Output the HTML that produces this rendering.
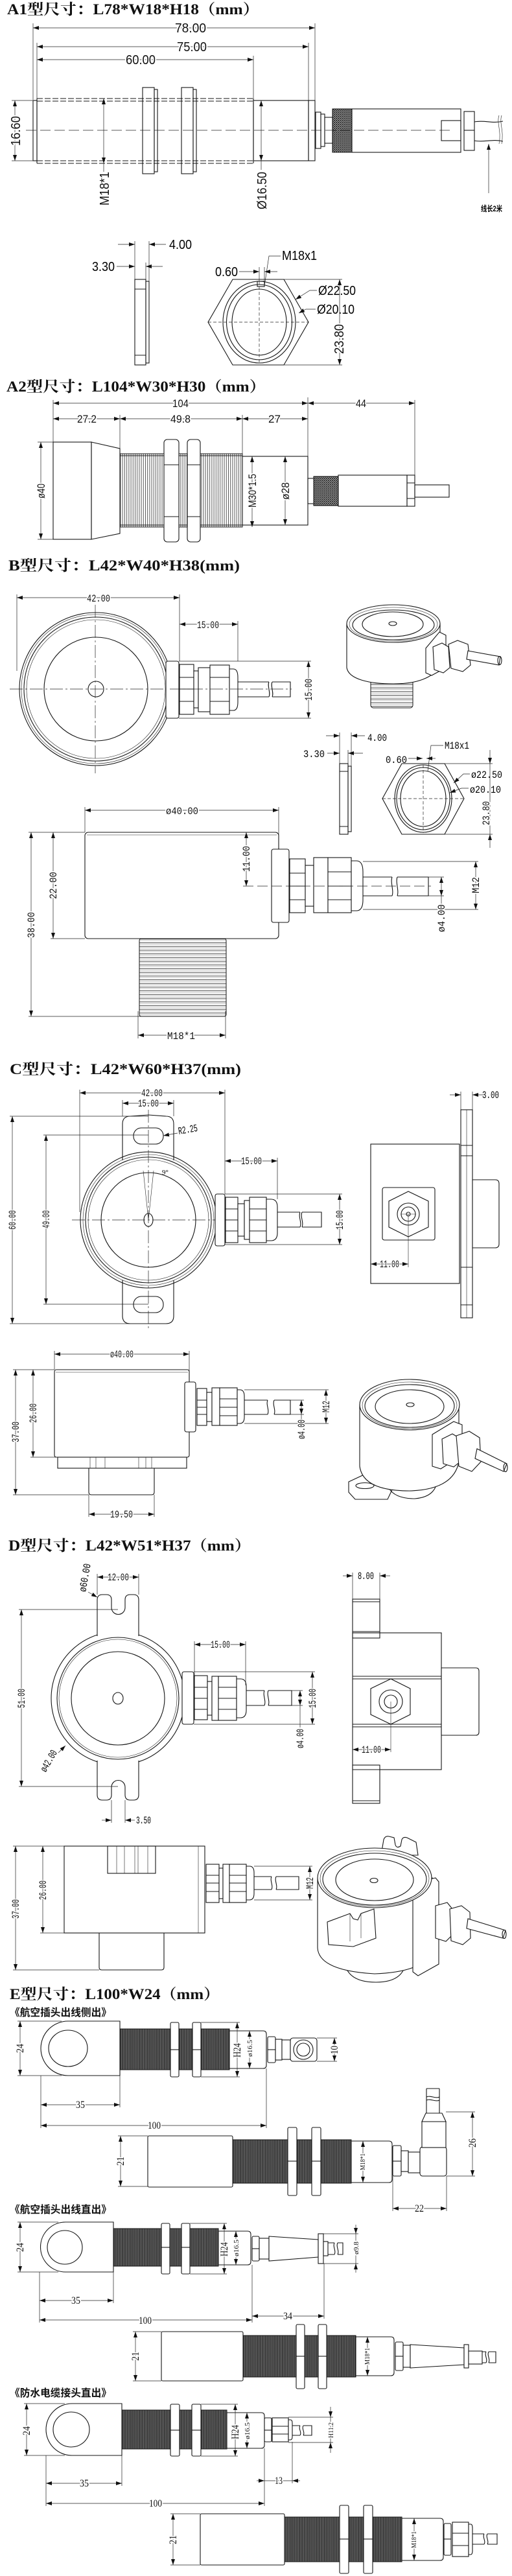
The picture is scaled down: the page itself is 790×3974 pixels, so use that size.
<!DOCTYPE html>
<html><head><meta charset="utf-8">
<style>
html,body{margin:0;padding:0;background:#fff}
svg{display:block}
.o{fill:none;stroke:#141414;stroke-width:1.1}
.w{fill:#fff;stroke:#141414;stroke-width:1.1}
.t{fill:none;stroke:#222;stroke-width:.6}
.d{fill:none;stroke:#222;stroke-width:.7}
.a{marker-start:url(#ar);marker-end:url(#ar)}
.e{marker-end:url(#ar)}
.cl{fill:none;stroke:#222;stroke-width:.8;stroke-dasharray:16 6}
.cd{fill:none;stroke:#222;stroke-width:.7;stroke-dasharray:20 4 3 4}
.ds{fill:none;stroke:#141414;stroke-width:1.1;stroke-dasharray:9 3}
.l{paint-order:stroke;stroke:#fff;stroke-width:4px;stroke-linejoin:round;fill:#111}
.fa{font-family:"Liberation Sans",sans-serif;font-size:20px}
.fb{font-family:"Liberation Sans",sans-serif;font-size:17px}
.fm{font-family:"Liberation Mono",monospace;font-size:16px}
.fe{font-family:"Liberation Serif",serif;font-size:16px}
.fs{font-family:"Liberation Serif",serif;font-size:11px}
.h{font-family:"Liberation Serif","Noto Serif CJK SC",serif;font-weight:700;font-size:23px;fill:#111}
.sub{font-family:"Liberation Serif","Noto Sans CJK SC",sans-serif;font-weight:700;font-size:16px;fill:#111}
</style></head>
<body>
<svg width="790" height="3974" viewBox="0 0 790 3974" xmlns="http://www.w3.org/2000/svg">
<defs>
<marker id="ar" viewBox="0 0 9 6" refX="9" refY="3" markerWidth="9" markerHeight="6" markerUnits="userSpaceOnUse" orient="auto-start-reverse"><path d="M0,0L9,3L0,6z" fill="#111"/></marker>
<pattern id="kn" width="3" height="3" patternUnits="userSpaceOnUse"><rect width="3" height="3" fill="#fff"/><path d="M0,0L3,3M3,0L0,3" stroke="#111" stroke-width=".9"/></pattern>
<pattern id="th" width="2.6" height="4" patternUnits="userSpaceOnUse"><rect width="2.6" height="4" fill="#383838"/><path d="M0.5,0V4" stroke="#8a8a8a" stroke-width=".6"/></pattern>
<pattern id="tv" width="3.2" height="4" patternUnits="userSpaceOnUse"><rect width="3.2" height="4" fill="#fff"/><path d="M0.5,0V4" stroke="#333" stroke-width=".8"/></pattern>
<pattern id="tb" width="4" height="5.7" patternUnits="userSpaceOnUse"><rect width="4" height="5.7" fill="#fff"/><path d="M0,1H4" stroke="#333" stroke-width=".9"/><path d="M0,3.5H4" stroke="#999" stroke-width=".6"/></pattern>
</defs>

<!-- ================= A1 ================= -->
<text class="h" x="11" y="22" textLength="389" lengthAdjust="spacingAndGlyphs">A1型尺寸：L78*W18*H18（mm）</text>
<path class="d" d="M51,36V154M57,66V152M391,86V152M476,66V155M486,36V155"/>
<path class="d a" d="M51,43H486"/><text class="l fa" x="270" y="50" textLength="48" lengthAdjust="spacingAndGlyphs">78.00</text>
<path class="d a" d="M57,72H476"/><text class="l fa" x="273" y="79" textLength="46" lengthAdjust="spacingAndGlyphs">75.00</text>
<path class="d a" d="M57,92H391"/><text class="l fa" x="194" y="99" textLength="46" lengthAdjust="spacingAndGlyphs">60.00</text>
<rect class="o" x="51" y="155" width="6" height="93"/>
<path class="ds" d="M57,152H391M57,156H391M57,248H391M57,252H391"/>
<path class="o" d="M57,152V252M391,152V252"/>
<rect class="o" x="220" y="135" width="18" height="133"/><rect class="o" x="238" y="138" width="5" height="127"/>
<rect class="o" x="280" y="135" width="18" height="133"/><rect class="o" x="298" y="138" width="5" height="127"/>
<rect class="o" x="391" y="155" width="85" height="93"/><rect class="o" x="476" y="155" width="10" height="93"/>
<rect class="o" x="487" y="173" width="8" height="56"/><rect class="o" x="495" y="176" width="6" height="50"/><rect class="o" x="501" y="181" width="12" height="40"/>
<rect x="513" y="168" width="30" height="67" fill="url(#kn)" stroke="#141414"/>
<rect class="o" x="543" y="168" width="168" height="67"/><rect class="o" x="681" y="186" width="30" height="31"/>
<rect class="o" x="716" y="172" width="16" height="60"/><path class="o" d="M716,201H732"/>
<path class="o" d="M732,188C748,185 760,191 776,187M732,217C748,220 760,214 776,218"/>
<path class="t" d="M770,178c-4,12 4,24 0,44M774,178c-4,12 4,24 0,44"/>
<path class="cl" d="M40,201H700"/>
<path class="d" d="M18,155H51M18,248H51"/>
<path class="d a" d="M23,155V248"/><text class="l fa" transform="translate(24,202) rotate(-90)" x="-23" y="7" textLength="46" lengthAdjust="spacingAndGlyphs">16.60</text>
<path class="d a" d="M160,152V252"/><path class="d" d="M160,252V265"/>
<text class="l fa" transform="translate(161,291) rotate(-90)" x="-26" y="7" textLength="52" lengthAdjust="spacingAndGlyphs">M18*1</text>
<path class="d a" d="M403,155V248"/><path class="d" d="M403,248V262"/>
<text class="l fa" transform="translate(404,294) rotate(-90)" x="-29" y="7" textLength="58" lengthAdjust="spacingAndGlyphs">Ø16.50</text>
<path class="d e" d="M754,298V222"/>
<text x="742" y="326" font-family="Liberation Sans,Noto Sans CJK SC,sans-serif" font-weight="700" font-size="12" textLength="33" lengthAdjust="spacingAndGlyphs">线长2米</text>
<!-- washer -->
<rect class="o" x="208" y="431" width="17" height="132"/><rect class="o" x="225" y="434" width="5" height="126"/>
<path class="o" d="M208,446H225M208,548H225"/>
<path class="d" d="M208,372V431M230,372V434M225,405V431"/>
<path class="d e" d="M182,377H208"/><path class="d e" d="M256,377H230"/>
<text class="fa" x="261" y="384" textLength="35" lengthAdjust="spacingAndGlyphs">4.00</text>
<path class="d e" d="M180,411H208"/><path class="d e" d="M251,411H225"/>
<text class="fa" x="142" y="418" textLength="35" lengthAdjust="spacingAndGlyphs">3.30</text>
<!-- hex -->
<polygon class="o" points="359,431 438,431 476,497 438,563 359,563 321,497"/>
<ellipse class="o" cx="400" cy="497" rx="56" ry="63"/>
<ellipse class="o" cx="400" cy="497" rx="50.5" ry="58"/>
<ellipse class="o" cx="400" cy="497" rx="42" ry="51"/>
<path class="d" stroke-dasharray="5 3" d="M321,497H476M400,434V560"/>
<rect class="o" x="397" y="434" width="11" height="8"/>
<path class="d" d="M400,412V434M408,412V434"/>
<text class="fa" x="435" y="401" textLength="54" lengthAdjust="spacingAndGlyphs">M18x1</text>
<path class="d" d="M433,395H415L408,441"/>
<text class="fa" x="332" y="426" textLength="35" lengthAdjust="spacingAndGlyphs">0.60</text>
<path class="d e" d="M369,419H400"/><path class="d e" d="M428,419H408"/>
<text class="fa" x="491" y="455" textLength="58" lengthAdjust="spacingAndGlyphs">Ø22.50</text>
<path class="d e" d="M489,448H478L456,462"/>
<text class="fa" x="489" y="484" textLength="58" lengthAdjust="spacingAndGlyphs">Ø20.10</text>
<path class="d e" d="M487,477H472L461,483"/>
<path class="d" d="M438,431H528M438,563H528"/>
<path class="d a" d="M524,431V563"/>
<text class="l fa" transform="translate(523,523) rotate(-90)" x="-23" y="7" textLength="46" lengthAdjust="spacingAndGlyphs">23.80</text>

<!-- ================= A2 ================= -->
<text class="h" x="10" y="604" textLength="400" lengthAdjust="spacingAndGlyphs">A2型尺寸：L104*W30*H30（mm）</text>
<path class="d" d="M82,617V682M185,640V692M374,640V704M475,613V738M640,617V738"/>
<path class="d a" d="M82,622H475"/><text class="l fb" x="266" y="628" textLength="25" lengthAdjust="spacingAndGlyphs">104</text>
<path class="d a" d="M475,622H640"/><text class="l fb" x="549" y="628" textLength="16" lengthAdjust="spacingAndGlyphs">44</text>
<path class="d a" d="M82,646H185"/><text class="l fb" x="119" y="652" textLength="30" lengthAdjust="spacingAndGlyphs">27.2</text>
<path class="d a" d="M185,646H374"/><text class="l fb" x="263" y="652" textLength="31" lengthAdjust="spacingAndGlyphs">49.8</text>
<path class="d a" d="M374,646H475"/><text class="l fb" x="414" y="652" textLength="19" lengthAdjust="spacingAndGlyphs">27</text>
<rect class="o" x="82" y="682" width="59" height="150"/>
<polygon class="o" points="141,682 185,692 185,823 141,832"/>
<rect x="185" y="700" width="189" height="113" fill="url(#tv)" stroke="#141414"/>
<path class="o" d="M185,703H374M185,810H374"/>
<rect class="w" x="253" y="678" width="23" height="158" rx="5"/><path class="o" d="M253,717H276M253,797H276"/>
<rect class="w" x="289" y="678" width="20" height="158" rx="5"/><path class="o" d="M289,717H309M289,797H309"/>
<rect class="o" x="374" y="704" width="101" height="106"/>
<path class="d a" d="M389,704V813"/><text class="l fb" transform="translate(389,757) rotate(-90)" x="-26" y="6" textLength="52" lengthAdjust="spacingAndGlyphs">M30*1.5</text>
<path class="d a" d="M440,704V810"/><text class="l fb" transform="translate(440,757) rotate(-90)" x="-14" y="6" textLength="27" lengthAdjust="spacingAndGlyphs">ø28</text>
<path class="d" d="M58,682H82M58,832H82"/>
<path class="d a" d="M63,682V832"/><text class="l fb" transform="translate(63,757) rotate(-90)" x="-12" y="6" textLength="23" lengthAdjust="spacingAndGlyphs">ø40</text>
<rect class="o" x="475" y="738" width="9" height="39"/>
<rect x="484" y="735" width="38" height="45" fill="url(#kn)" stroke="#141414"/>
<rect class="o" x="522" y="733" width="106" height="48"/>
<rect class="o" x="628" y="733" width="12" height="48"/><path class="o" d="M628,745H640M628,769H640"/>
<rect class="o" x="640" y="748" width="53" height="19"/>

<!-- ================= B ================= -->
<text class="h" x="13" y="880" textLength="357" lengthAdjust="spacingAndGlyphs">B型尺寸：L42*W40*H38(mm)</text>
<path class="d" d="M26,917V1035M277,917V1020M367,958V1020"/>
<path class="d a" d="M26,922H277"/><text class="l fm" x="134" y="928" textLength="36" lengthAdjust="spacingAndGlyphs">42.00</text>
<path class="d a" d="M277,963H367"/><text class="l fm" x="304" y="969" textLength="34" lengthAdjust="spacingAndGlyphs">15.00</text>
<circle class="o" cx="148" cy="1063" r="118"/>
<circle class="t" cx="148" cy="1063" r="115"/>
<circle class="o" cx="148" cy="1063" r="111" stroke-width=".8"/>
<circle class="t" cx="148" cy="1063" r="107"/>
<circle class="o" cx="148" cy="1063" r="80" stroke-width=".8"/>
<circle class="o" cx="148" cy="1063" r="12"/>
<path class="cd" d="M147,933V1193M15,1063H262"/>
<rect class="w" x="256" y="1020" width="20" height="88" rx="3"/>
<rect class="w" x="277" y="1025" width="22" height="77"/><path class="o" d="M277,1045H299M277,1063H299M277,1082H299"/>
<rect class="w" x="299" y="1035" width="7" height="57"/>
<rect class="w" x="306" y="1030" width="18" height="68"/>
<rect class="w" x="324" y="1026" width="30" height="76"/><path class="o" d="M324,1045H354M324,1082H354"/>
<path class="w" d="M354,1032H360Q367,1032 367,1045V1083Q367,1096 360,1096H354Z"/>
<path class="o" d="M367,1052H415M367,1075H415M415,1052c-3,6 3,17 0,23M420,1052c-3,6 3,17 0,23M420,1052H448V1075H420"/>
<path class="cd" d="M262,1063H450"/>
<path class="d" d="M276,1020H480M276,1108H480"/>
<path class="d a" d="M476,1020V1108"/><text class="l fm" transform="translate(476,1064) rotate(-90)" x="-17" y="5" textLength="34" lengthAdjust="spacingAndGlyphs">15.00</text>
<!-- B 3D -->
<rect x="572" y="1040" width="65" height="52" fill="url(#tb)" stroke="#141414" rx="4"/>
<path class="w" d="M535,962V1030C538,1048 570,1055 607,1055C640,1055 670,1047 679,1025V962Z"/>
<ellipse class="w" cx="607" cy="962" rx="72" ry="29"/>
<ellipse class="t" cx="607" cy="963" rx="68" ry="26"/>
<ellipse class="o" cx="607" cy="964" rx="63" ry="23" stroke-width=".8"/>
<ellipse class="o" cx="606" cy="963" rx="47" ry="19" stroke-width=".8"/>
<ellipse class="o" cx="606" cy="962" rx="6" ry="3"/>
<path class="w" d="M657,1000L678,975L688,980L688,1030L666,1042L657,1038Z"/>
<path class="w" d="M668,998L682,992L692,998L694,1030L684,1038L670,1033Z"/>
<path class="w" d="M692,994L706,988L722,994L726,1026L714,1036L696,1031Z"/>
<path class="w" d="M722,1004L772,1013L770,1026L720,1017Z"/>
<ellipse class="o" cx="771" cy="1019" rx="3" ry="6.5"/>
<!-- B washer & hex -->
<rect class="o" x="524" y="1178" width="13" height="109"/><rect class="o" x="537" y="1182" width="5" height="101"/>
<path class="o" d="M524,1190H537M524,1275H537"/>
<path class="d" d="M524,1130V1178M542,1130V1182M537,1157V1182"/>
<path class="d e" d="M503,1135H524"/><path class="d e" d="M563,1135H542"/>
<text class="fm" x="567" y="1143" textLength="30" lengthAdjust="spacingAndGlyphs">4.00</text>
<path class="d e" d="M505,1162H524"/><path class="d e" d="M560,1162H537"/>
<text class="fm" x="468" y="1168" textLength="33" lengthAdjust="spacingAndGlyphs">3.30</text>
<polygon class="o" points="620,1178 686,1178 716,1232 686,1287 620,1287 590,1232"/>
<ellipse class="o" cx="653" cy="1232" rx="44" ry="52"/>
<ellipse class="o" cx="653" cy="1232" rx="41" ry="48"/>
<ellipse class="o" cx="653" cy="1232" rx="35" ry="43"/>
<path class="d" stroke-dasharray="5 3" d="M590,1232H716M653,1180V1285"/>
<text class="fm" x="686" y="1155" textLength="38" lengthAdjust="spacingAndGlyphs">M18x1</text>
<path class="d" d="M684,1150H665L660,1190"/>
<text class="fm" x="595" y="1177" textLength="33" lengthAdjust="spacingAndGlyphs">0.60</text>
<path class="d e" d="M630,1170H652"/><path class="d e" d="M672,1170H658"/>
<text class="fm" x="727" y="1200" textLength="48" lengthAdjust="spacingAndGlyphs">ø22.50</text>
<path class="d e" d="M725,1194H715L700,1208"/>
<text class="fm" x="725" y="1223" textLength="48" lengthAdjust="spacingAndGlyphs">ø20.10</text>
<path class="d e" d="M723,1216H712L694,1223"/>
<path class="d" d="M686,1178H760M686,1287H760"/>
<path class="d e" d="M756,1157V1178"/><path class="d e" d="M756,1308V1287"/><path class="d" d="M756,1178V1287"/>
<text class="l fm" transform="translate(750,1255) rotate(-90)" x="-18" y="5" textLength="37" lengthAdjust="spacingAndGlyphs">23.80</text>
<!-- B side -->
<path class="d" d="M131,1245V1284M430,1245V1310"/>
<path class="d a" d="M131,1250H430"/><text class="l fm" x="256" y="1256" textLength="50" lengthAdjust="spacingAndGlyphs">ø40.00</text>
<rect class="o" x="131" y="1284" width="299" height="164" rx="5"/>
<path class="t" d="M134,1288H427"/>
<path class="d" d="M44,1284H131M78,1448H131M44,1568H218"/>
<path class="d a" d="M48,1284V1568"/><text class="l fm" transform="translate(48,1427) rotate(-90)" x="-20" y="5" textLength="40" lengthAdjust="spacingAndGlyphs">38.00</text>
<path class="d a" d="M82,1284V1448"/><text class="l fm" transform="translate(82,1366) rotate(-90)" x="-21" y="5" textLength="42" lengthAdjust="spacingAndGlyphs">22.00</text>
<path class="d a" d="M380,1284V1367"/><text class="l fm" transform="translate(380,1325) rotate(-90)" x="-20" y="5" textLength="40" lengthAdjust="spacingAndGlyphs">11.00</text>
<rect class="w" x="419" y="1310" width="27" height="113" rx="3"/>
<rect class="w" x="447" y="1325" width="24" height="83"/><path class="o" d="M447,1347H471M447,1367H471M447,1388H471"/>
<rect class="w" x="471" y="1335" width="13" height="63"/>
<rect class="w" x="484" y="1323" width="22" height="85"/>
<rect class="w" x="506" y="1323" width="36" height="85"/><path class="o" d="M506,1345H542M506,1367H542M506,1388H542"/>
<path class="w" d="M542,1328H550Q560,1328 560,1345V1388Q560,1405 550,1405H542Z"/>
<path class="o" d="M560,1353H605M560,1382H605M605,1353c-3,8 3,21 0,29M613,1353c-3,8 3,21 0,29M613,1353H661V1382H613"/>
<path class="cl" d="M375,1367H665"/>
<path class="d" d="M560,1329H738M560,1403H738M661,1353H685M661,1382H685"/>
<path class="d a" d="M734,1329V1403"/><text class="l fm" transform="translate(734,1366) rotate(-90)" x="-12" y="5" textLength="25" lengthAdjust="spacingAndGlyphs">M12</text>
<path class="d a" d="M681,1353V1382"/><path class="d" d="M681,1382V1396"/>
<text class="l fm" transform="translate(681,1417) rotate(-90)" x="-21" y="5" textLength="43" lengthAdjust="spacingAndGlyphs">ø4.00</text>
<rect x="215" y="1448" width="134" height="120" fill="url(#tb)" stroke="#141414" rx="3"/>
<path class="d" d="M213,1560V1602M348,1560V1602"/>
<path class="d a" d="M213,1597H348"/><text class="l fm" x="258" y="1603" textLength="43" lengthAdjust="spacingAndGlyphs">M18*1</text>

<!-- ================= C ================= -->
<text class="h" x="15" y="1657" textLength="357" lengthAdjust="spacingAndGlyphs">C型尺寸：L42*W60*H37(mm)</text>
<path class="d" d="M123,1681V1870M347,1681V1842M189,1697V1722M268,1697V1722"/>
<path class="d a" d="M123,1686H347"/><text class="l fm" x="218" y="1691" textLength="33" lengthAdjust="spacingAndGlyphs">42.00</text>
<path class="d a" d="M189,1702H268"/><text class="l fm" x="213" y="1707" textLength="32" lengthAdjust="spacingAndGlyphs">15.00</text>
<path class="o" d="M189,1790V1734Q189,1722 201,1722L229,1720L256,1722Q268,1722 268,1734V1790"/>
<path class="o" d="M189,1975V2030Q189,2042 201,2042H256Q268,2042 268,2030V1975"/>
<rect class="o" x="206" y="1740" width="46" height="25" rx="12"/>
<rect class="o" x="206" y="2000" width="46" height="25" rx="12"/>
<circle class="o" cx="229" cy="1882" r="105"/>
<circle class="t" cx="229" cy="1882" r="101"/>
<circle class="o" cx="229" cy="1882" r="97" stroke-width=".8"/>
<circle class="t" cx="229" cy="1882" r="93"/>
<circle class="o" cx="229" cy="1882" r="73" stroke-width=".9"/>
<ellipse class="o" cx="229" cy="1882" rx="7" ry="10"/>
<path class="cd" d="M229,1712V2050M111,1882H345"/>
<path class="t" d="M229,1882L221,1806M229,1882L237,1806"/>
<text class="fs" x="250" y="1812">9°</text>
<text class="fm" font-size="12" transform="translate(276,1750) rotate(-10)" textLength="30" lengthAdjust="spacingAndGlyphs">R2.25</text>
<path class="d e" d="M274,1748L252,1752"/>
<path class="d" d="M15,1722H229M67,1751H229M15,2042H229M67,2012H229"/>
<path class="d a" d="M19,1722V2042"/><text class="l fm" transform="translate(19,1882) rotate(-90)" x="-15" y="5" textLength="30" lengthAdjust="spacingAndGlyphs">60.00</text>
<path class="d a" d="M71,1751V2012"/><text class="l fm" transform="translate(71,1881) rotate(-90)" x="-14" y="5" textLength="28" lengthAdjust="spacingAndGlyphs">49.00</text>
<rect class="w" x="332" y="1842" width="15" height="80" rx="3"/>
<rect class="w" x="348" y="1847" width="19" height="70"/><path class="o" d="M348,1865H367M348,1882H367M348,1899H367"/>
<rect class="w" x="367" y="1857" width="10" height="50"/>
<rect class="w" x="377" y="1852" width="8" height="60"/>
<rect class="w" x="385" y="1847" width="26" height="70"/><path class="o" d="M385,1865H411M385,1882H411M385,1899H411"/>
<path class="w" d="M411,1850H418Q428,1850 428,1862V1902Q428,1914 418,1914H411Z"/>
<path class="o" d="M428,1870H463M428,1893H463M463,1870c-3,7 3,16 0,23M466,1870c-3,7 3,16 0,23M466,1870H496V1893H466"/>
<path class="d" d="M428,1786V1850M347,1842H528M347,1920H528"/>
<path class="d a" d="M347,1791H428"/><text class="l fm" x="372" y="1796" textLength="32" lengthAdjust="spacingAndGlyphs">15.00</text>
<path class="d a" d="M524,1842V1920"/><text class="l fm" transform="translate(524,1882) rotate(-90)" x="-15" y="5" textLength="30" lengthAdjust="spacingAndGlyphs">15.00</text>
<!-- C side -->
<rect class="o" x="572" y="1765" width="137" height="215"/>
<rect class="o" x="711" y="1712" width="18" height="321"/>
<path class="t" d="M720,1712V2033"/>
<path class="o" d="M711,1767H729M711,1783H729M711,1955H729M711,2013H729"/>
<path class="w" d="M729,1820H764Q770,1820 770,1826V1919Q770,1925 764,1925H729Z"/>
<rect class="o" x="590" y="1832" width="81" height="81" rx="3"/>
<polygon class="o" points="630,1838 661,1853 661,1893 630,1908 600,1893 600,1853"/>
<circle class="o" cx="630" cy="1873" r="17"/><circle class="o" cx="630" cy="1873" r="11"/><circle class="o" cx="630" cy="1873" r="3"/>
<path class="t" d="M630,1873V1955M618,1873H642"/>
<path class="d" d="M711,1684V1712M729,1684V1712"/>
<path class="d e" d="M694,1689H711"/><path class="d e" d="M746,1689H729"/>
<text class="fm" x="744" y="1694" textLength="26" lengthAdjust="spacingAndGlyphs">3.00</text>
<path class="d a" d="M572,1950H630"/><text class="l fm" x="586" y="1955" textLength="30" lengthAdjust="spacingAndGlyphs">11.00</text>
<!-- C lower side -->
<path class="d" d="M84,2084V2113M292,2084V2132"/>
<path class="d a" d="M84,2089H292"/><text class="l fm" x="170" y="2094" textLength="36" lengthAdjust="spacingAndGlyphs">ø40.00</text>
<rect class="o" x="84" y="2113" width="208" height="135" rx="3"/>
<path class="t" d="M86,2117H290"/>
<rect class="o" x="89" y="2248" width="199" height="17"/>
<path class="t" d="M139,2248V2265M148,2248V2265M162,2248V2265M214,2248V2265M225,2248V2265M234,2248V2265"/>
<path class="o" d="M137,2265V2302Q137,2306 141,2306H234Q238,2306 238,2302V2265"/>
<path class="d" d="M20,2113H84M20,2306H137M47,2248H89M137,2306V2340M238,2306V2340"/>
<path class="d a" d="M24,2113V2306"/><text class="l fm" transform="translate(24,2209) rotate(-90)" x="-16" y="5" textLength="32" lengthAdjust="spacingAndGlyphs">37.00</text>
<path class="d a" d="M51,2113V2248"/><text class="l fm" transform="translate(51,2180) rotate(-90)" x="-15" y="5" textLength="30" lengthAdjust="spacingAndGlyphs">26.00</text>
<path class="d a" d="M137,2336H238"/><text class="l fm" x="170" y="2341" textLength="35" lengthAdjust="spacingAndGlyphs">19.50</text>
<rect class="w" x="285" y="2132" width="17" height="77" rx="3"/>
<rect class="w" x="304" y="2142" width="15" height="57"/><path class="o" d="M304,2160H319M304,2171H319M304,2182H319"/>
<rect class="w" x="319" y="2148" width="8" height="45"/>
<rect class="w" x="327" y="2141" width="12" height="58"/>
<rect class="w" x="339" y="2141" width="27" height="58"/><path class="o" d="M339,2158H366M339,2171H366M339,2184H366"/>
<path class="w" d="M366,2144H370Q377,2144 377,2154V2186Q377,2196 370,2196H366Z"/>
<path class="o" d="M377,2160H413M377,2182H413M413,2160c-3,7 3,15 0,22M423,2160c-3,7 3,15 0,22M423,2160H448V2182H423"/>
<path class="d" d="M377,2144H507M377,2196H507M448,2160H469M448,2182H469"/>
<path class="d a" d="M503,2144V2196"/><text class="l fm" transform="translate(503,2170) rotate(-90)" x="-9" y="5" textLength="18" lengthAdjust="spacingAndGlyphs">M12</text>
<path class="d a" d="M465,2160V2182"/><path class="d" d="M465,2182V2190"/>
<text class="l fm" transform="translate(465,2205) rotate(-90)" x="-15" y="5" textLength="30" lengthAdjust="spacingAndGlyphs">ø4.00</text>
<!-- C 3D -->
<path class="w" d="M538,2286L568,2272L600,2279L608,2292L598,2313L548,2313L538,2302Z"/>
<ellipse class="o" cx="563" cy="2292" rx="14" ry="4.5"/>
<path class="o" d="M600,2296Q610,2312 640,2312Q665,2310 672,2294"/>
<path class="w" d="M555,2167V2262Q560,2300 632,2300Q700,2298 708,2255V2167Z"/>
<ellipse class="w" cx="632" cy="2167" rx="77" ry="39"/>
<ellipse class="t" cx="632" cy="2168" rx="73" ry="36"/>
<ellipse class="o" cx="632" cy="2169" rx="69" ry="33" stroke-width=".8"/>
<ellipse class="o" cx="632" cy="2170" rx="53" ry="26" stroke-width=".8"/>
<ellipse class="o" cx="633" cy="2167" rx="6" ry="3"/>
<path class="w" d="M667,2213L700,2193L713,2198L713,2245L680,2266L667,2262Z"/>
<path class="w" d="M682,2220L698,2212L708,2218L710,2255L700,2263L684,2258Z"/>
<path class="w" d="M704,2215L724,2208L740,2218L742,2255L728,2270L708,2262Z"/>
<path class="w" d="M736,2235L782,2258L777,2270L733,2250Z"/>
<ellipse class="o" cx="780" cy="2264" rx="3" ry="6.5"/>

<!-- ================= D ================= -->
<text class="h" x="13" y="2392" textLength="374" lengthAdjust="spacingAndGlyphs">D型尺寸：L42*W51*H37（mm）</text>
<path class="d" d="M150,2428V2460M214,2428V2460"/>
<path class="d a" d="M150,2433H214"/><text class="l fm" x="166" y="2438" textLength="33" lengthAdjust="spacingAndGlyphs">12.00</text>
<text class="fm" font-size="13" transform="translate(132,2434) rotate(-80)" x="-22" y="4" textLength="44" lengthAdjust="spacingAndGlyphs">ø60.00</text>
<path class="d e" d="M136,2456L150,2464"/>
<circle class="o" cx="182" cy="2620" r="103"/>
<circle class="o" cx="182" cy="2620" r="94" stroke-width=".9"/>
<circle class="t" cx="182" cy="2620" r="91"/>
<circle class="o" cx="182" cy="2620" r="72" stroke-width=".9"/>
<ellipse class="o" cx="182" cy="2620" rx="8" ry="9"/>
<path class="w" d="M150,2524V2468Q150,2460 158,2460H164Q172,2460 172,2468V2480A10.5,10.5 0 0 0 193,2480V2468Q193,2460 201,2460H206Q214,2460 214,2468V2524"/>
<path class="w" d="M150,2716V2769Q150,2777 158,2777H164Q172,2777 172,2769V2757A10.5,10.5 0 0 1 193,2757V2769Q193,2777 201,2777H206Q214,2777 214,2769V2716"/>
<path class="d" d="M29,2483H182M29,2756H182"/>
<path class="d a" d="M33,2483V2756"/><text class="l fm" transform="translate(33,2620) rotate(-90)" x="-15" y="5" textLength="30" lengthAdjust="spacingAndGlyphs">51.00</text>
<path class="d" d="M172,2777V2812M193,2777V2812"/>
<path class="d e" d="M157,2808H172"/><path class="d e" d="M208,2808H193"/>
<text class="fm" x="210" y="2813" textLength="23" lengthAdjust="spacingAndGlyphs">3.50</text>
<text class="fm" font-size="13" transform="translate(76,2717) rotate(-60)" x="-18" y="4" textLength="36" lengthAdjust="spacingAndGlyphs">ø42.00</text>
<path class="d e" d="M90,2704L101,2693"/>
<rect class="w" x="281" y="2579" width="18" height="81" rx="3"/>
<rect class="w" x="300" y="2585" width="20" height="68"/><path class="o" d="M300,2603H320M300,2620H320M300,2637H320"/>
<rect class="w" x="320" y="2594" width="7" height="52"/>
<rect class="w" x="327" y="2586" width="10" height="68"/>
<rect class="w" x="337" y="2586" width="28" height="68"/><path class="o" d="M337,2603H365M337,2620H365M337,2637H365"/>
<path class="w" d="M365,2590H371Q380,2590 380,2602V2638Q380,2650 371,2650H365Z"/>
<path class="o" d="M380,2608H408M380,2631H408M408,2608c-3,7 3,16 0,23M414,2608c-3,7 3,16 0,23M414,2608H450V2631H414"/>
<path class="d" d="M300,2532V2585M379,2532V2600M299,2579H486M299,2660H486M450,2608H467M450,2631H467"/>
<path class="d a" d="M300,2537H379"/><text class="l fm" x="325" y="2542" textLength="30" lengthAdjust="spacingAndGlyphs">15.00</text>
<path class="d a" d="M482,2579V2660"/><text class="l fm" transform="translate(482,2620) rotate(-90)" x="-15" y="5" textLength="30" lengthAdjust="spacingAndGlyphs">15.00</text>
<path class="d a" d="M463,2608V2631"/><path class="d" d="M463,2631V2665"/>
<text class="l fm" transform="translate(463,2682) rotate(-90)" x="-15" y="5" textLength="30" lengthAdjust="spacingAndGlyphs">ø4.00</text>
<!-- D side -->
<path class="d" d="M544,2426V2467M586,2426V2467"/>
<path class="d e" d="M529,2431H544"/><path class="d e" d="M602,2431H586"/>
<text class="fm" x="552" y="2436" textLength="25" lengthAdjust="spacingAndGlyphs">8.00</text>
<rect class="o" x="544" y="2467" width="42" height="60"/><path class="o" d="M544,2471H586M544,2517H586"/>
<rect class="o" x="544" y="2519" width="137" height="211"/>
<rect class="w" x="544" y="2723" width="42" height="59"/><path class="o" d="M544,2730H586M544,2778H586"/>
<path class="o" d="M544,2586H681M544,2590H681M544,2660H681M544,2664H681"/>
<path class="w" d="M681,2573H734Q739,2573 739,2578V2672Q739,2677 734,2677H681Z"/>
<polygon class="o" points="603,2590 633,2605 633,2645 603,2660 572,2645 572,2605"/>
<circle class="o" cx="603" cy="2625" r="18"/><circle class="o" cx="603" cy="2625" r="10"/>
<path class="t" d="M603,2625V2703"/>
<path class="d a" d="M544,2699H603"/><text class="l fm" x="558" y="2704" textLength="30" lengthAdjust="spacingAndGlyphs">11.00</text>
<!-- D lower side -->
<rect class="o" x="99" y="2848" width="217" height="134"/>
<path class="t" d="M306,2848V2982"/>
<rect class="o" x="166" y="2848" width="74" height="42"/>
<path class="t" d="M180,2848V2890M192,2848V2890M208,2848V2890M213,2848V2890M228,2848V2890"/>
<path class="o" d="M153,2982V3035Q153,3039 157,3039H249Q253,3039 253,3035V2982"/>
<path class="d" d="M20,2848H99M20,3039H153M62,2982H99"/>
<path class="d a" d="M24,2848V3039"/><text class="l fm" transform="translate(24,2945) rotate(-90)" x="-15" y="5" textLength="30" lengthAdjust="spacingAndGlyphs">37.00</text>
<path class="d a" d="M66,2848V2982"/><text class="l fm" transform="translate(66,2916) rotate(-90)" x="-15" y="5" textLength="30" lengthAdjust="spacingAndGlyphs">26.00</text>
<rect class="w" x="318" y="2876" width="20" height="59"/><path class="o" d="M318,2893H338M318,2905H338M318,2918H338"/>
<rect class="w" x="338" y="2882" width="6" height="47"/>
<rect class="w" x="344" y="2876" width="10" height="59"/>
<rect class="w" x="354" y="2876" width="26" height="59"/><path class="o" d="M354,2893H380M354,2905H380M354,2918H380"/>
<path class="w" d="M380,2879H385Q392,2879 392,2889V2921Q392,2931 385,2931H380Z"/>
<path class="o" d="M392,2895H419M392,2915H419M419,2895c-3,6 3,14 0,20M426,2895c-3,6 3,14 0,20M426,2895H461V2915H426"/>
<path class="d" d="M392,2879H482M392,2931H482"/>
<path class="d a" d="M478,2879V2931"/><text class="l fm" transform="translate(478,2905) rotate(-90)" x="-9" y="5" textLength="18" lengthAdjust="spacingAndGlyphs">M12</text>
<!-- D 3D -->
<path class="w" d="M588,2862L592,2838Q594,2832 600,2833L608,2835L610,2846Q612,2852 618,2848L620,2838Q622,2833 628,2835L642,2842L645,2862Z"/>
<path class="o" d="M535,3038Q545,3058 580,3058Q612,3058 622,3040"/>
<path class="w" d="M490,2897V3005Q492,3040 578,3045Q655,3042 667,3010V2897Z"/>
<path class="w" d="M637,2905L672,2897L677,2903L677,3030L645,3048L637,3042Z"/>
<ellipse class="w" cx="578" cy="2897" rx="88" ry="46"/>
<ellipse class="t" cx="578" cy="2898" rx="84" ry="43"/>
<ellipse class="o" cx="578" cy="2899" rx="80" ry="40" stroke-width=".8"/>
<ellipse class="o" cx="578" cy="2900" rx="60" ry="32" stroke-width=".8"/>
<ellipse class="o" cx="577" cy="2901" rx="6" ry="3.5"/>
<path class="w" d="M505,2965L540,2952L545,2960L552,2962L557,2952L577,2945L580,2990L545,3003L507,3000Z"/>
<path class="t" d="M540,2952V2995M557,2952V2990"/>
<path class="w" d="M672,2940L690,2935L698,2945L698,2985L688,2995L672,2990Z"/>
<path class="w" d="M694,2945L712,2940L725,2950L726,2990L714,3000L696,2994Z"/>
<path class="w" d="M722,2960L780,2978L776,2990L720,2975Z"/>
<ellipse class="o" cx="778" cy="2984" rx="3" ry="6.5"/>

<!-- ================= E ================= -->
<text class="h" x="15" y="3084" textLength="324" lengthAdjust="spacingAndGlyphs">E型尺寸：L100*W24（mm）</text>
<text class="sub" x="15" y="3110" textLength="157" lengthAdjust="spacingAndGlyphs">《航空插头出线侧出》</text>
<!-- E1 top -->
<path class="w" d="M185,3118H105A42,42 0 0 0 105,3202H185Z"/>
<ellipse class="o" cx="105" cy="3160" rx="30" ry="28"/>
<rect x="185" y="3130" width="169" height="63" fill="url(#th)" stroke="#141414"/>
<rect class="w" x="263" y="3120" width="13" height="84" rx="2"/><path class="o" d="M263,3162H276"/>
<rect class="w" x="297" y="3120" width="13" height="84" rx="2"/><path class="o" d="M297,3162H310"/>
<path class="w" d="M354,3133H406Q411,3133 411,3138V3186Q411,3191 406,3191H354Z"/>
<rect class="w" x="413" y="3142" width="12" height="40" rx="2"/><path class="o" d="M413,3162H425"/>
<rect class="w" x="425" y="3146" width="10" height="32"/>
<rect class="w" x="435" y="3147" width="13" height="30"/>
<rect class="w" x="448" y="3144" width="41" height="36" rx="4"/>
<circle class="o" cx="468" cy="3162" r="15"/><circle class="o" cx="468" cy="3162" r="10"/>
<path class="d" d="M27,3118H95M27,3202H95M489,3144H520M489,3180H520M310,3120H370M310,3204H370"/>
<path class="d a" d="M31,3118V3202"/><text class="l fe" transform="translate(31,3160) rotate(-90)" x="-7" y="5" textLength="14" lengthAdjust="spacingAndGlyphs">24</text>
<path class="d a" d="M516,3144V3180"/><text class="l fe" transform="translate(516,3162) rotate(-90)" x="-7" y="5" textLength="13" lengthAdjust="spacingAndGlyphs">10</text>
<path class="d a" d="M366,3120V3204"/><text class="l fe" transform="translate(366,3163) rotate(-90)" x="-11" y="5" textLength="22" lengthAdjust="spacingAndGlyphs">H24</text>
<path class="d a" d="M385,3133V3191"/><text class="l fs" transform="translate(385,3160) rotate(-90)" x="-13" y="4" textLength="26" lengthAdjust="spacingAndGlyphs">ø16.5</text>
<path class="d" d="M63,3202V3283M185,3202V3251M411,3191V3283"/>
<path class="d a" d="M63,3247H185"/><text class="l fe" x="117" y="3252" textLength="14" lengthAdjust="spacingAndGlyphs">35</text>
<path class="d a" d="M63,3279H411"/><text class="l fe" x="228" y="3284" textLength="20" lengthAdjust="spacingAndGlyphs">100</text>
<!-- E1 side -->
<rect class="w" x="228" y="3295" width="131" height="79" rx="2"/>
<rect x="359" y="3301" width="183" height="67" fill="url(#th)" stroke="#141414"/>
<rect class="w" x="444" y="3282" width="14" height="105" rx="2"/><path class="o" d="M444,3334H458"/>
<rect class="w" x="481" y="3282" width="14" height="105" rx="2"/><path class="o" d="M481,3334H495"/>
<path class="w" d="M542,3303H600Q605,3303 605,3308V3362Q605,3367 600,3367H542Z"/>
<rect class="w" x="606" y="3310" width="13" height="47" rx="2"/><path class="o" d="M606,3334H619"/>
<rect class="w" x="619" y="3318" width="11" height="32"/>
<rect class="w" x="630" y="3320" width="18" height="32"/>
<rect class="w" x="648" y="3312" width="41" height="45" rx="4"/>
<rect class="w" x="651" y="3273" width="37" height="40"/>
<polygon class="w" points="651,3273 657,3260 682,3260 688,3273"/>
<path class="o" d="M658,3222V3260M678,3222V3260M658,3222H678M658,3235c6,-3 14,3 20,0M658,3240c6,-3 14,3 20,0"/>
<path class="d" d="M182,3295H228M182,3373H228M688,3258H733M689,3357H733M606,3357V3411M689,3357V3411"/>
<path class="d a" d="M186,3295V3373"/><text class="l fe" transform="translate(186,3334) rotate(-90)" x="-7" y="5" textLength="14" lengthAdjust="spacingAndGlyphs">21</text>
<path class="d a" d="M560,3303V3367"/><text class="l fs" font-size="10" transform="translate(560,3335) rotate(-90)" x="-13" y="3" textLength="26" lengthAdjust="spacingAndGlyphs">M18*1</text>
<path class="d a" d="M729,3258V3357"/><text class="l fe" transform="translate(729,3306) rotate(-90)" x="-7" y="5" textLength="14" lengthAdjust="spacingAndGlyphs">26</text>
<path class="d a" d="M606,3407H689"/><text class="l fe" x="640" y="3412" textLength="14" lengthAdjust="spacingAndGlyphs">22</text>
<!-- E2 -->
<text class="sub" x="15" y="3414" textLength="157" lengthAdjust="spacingAndGlyphs">《航空插头出线直出》</text>
<path class="w" d="M175,3428H101A38.5,38.5 0 0 0 101,3505H175Z"/>
<ellipse class="o" cx="100" cy="3467" rx="27" ry="26"/>
<rect x="175" y="3438" width="162" height="58" fill="url(#th)" stroke="#141414"/>
<rect class="w" x="249" y="3430" width="13" height="78" rx="2"/><path class="o" d="M249,3467H262"/>
<rect class="w" x="280" y="3430" width="13" height="78" rx="2"/><path class="o" d="M280,3467H293"/>
<path class="w" d="M337,3442H382Q387,3442 387,3447V3489Q387,3494 382,3494H337Z"/>
<rect class="w" x="389" y="3450" width="11" height="38" rx="2"/><path class="o" d="M389,3469H400"/>
<rect class="w" x="400" y="3453" width="15" height="32"/>
<polygon class="w" points="415,3450 491,3455 491,3482 415,3488"/>
<rect class="w" x="491" y="3446" width="8" height="46"/>
<rect class="w" x="499" y="3458" width="7" height="22"/>
<path class="o" d="M506,3460H516M506,3478H516M516,3460c-3,6 3,12 0,18M521,3460c-3,6 3,12 0,18M521,3460H529V3478H521"/>
<path class="d" d="M27,3428H90M27,3505H90M293,3430H350M293,3508H350M499,3446H553M499,3492H553"/>
<path class="d a" d="M31,3428V3505"/><text class="l fe" transform="translate(31,3467) rotate(-90)" x="-7" y="5" textLength="14" lengthAdjust="spacingAndGlyphs">24</text>
<path class="d a" d="M346,3430V3508"/><text class="l fe" transform="translate(346,3470) rotate(-90)" x="-11" y="5" textLength="22" lengthAdjust="spacingAndGlyphs">H24</text>
<path class="d a" d="M364,3442V3494"/><text class="l fs" transform="translate(364,3468) rotate(-90)" x="-13" y="4" textLength="26" lengthAdjust="spacingAndGlyphs">ø16.5</text>
<path class="d e" d="M549,3432V3446"/><path class="d e" d="M549,3506V3492"/><path class="d" d="M549,3446V3492"/>
<text class="l fs" transform="translate(549,3468) rotate(-90)" x="-10" y="4" textLength="20" lengthAdjust="spacingAndGlyphs">ø9.8</text>
<path class="d" d="M61,3505V3583M175,3505V3553M389,3494V3583M500,3492V3577"/>
<path class="d a" d="M61,3549H175"/><text class="l fe" x="110" y="3554" textLength="14" lengthAdjust="spacingAndGlyphs">35</text>
<path class="d a" d="M389,3573H500"/><text class="l fe" x="437" y="3578" textLength="14" lengthAdjust="spacingAndGlyphs">34</text>
<path class="d a" d="M61,3579H389"/><text class="l fe" x="214" y="3585" textLength="20" lengthAdjust="spacingAndGlyphs">100</text>
<!-- E2 side -->
<rect class="w" x="249" y="3597" width="126" height="76" rx="2"/>
<rect x="375" y="3603" width="174" height="64" fill="url(#th)" stroke="#141414"/>
<rect class="w" x="457" y="3586" width="13" height="99" rx="2"/><path class="o" d="M457,3635H470"/>
<rect class="w" x="491" y="3586" width="13" height="99" rx="2"/><path class="o" d="M491,3635H504"/>
<path class="w" d="M549,3605H603Q608,3605 608,3610V3660Q608,3665 603,3665H549Z"/>
<rect class="w" x="610" y="3613" width="12" height="44" rx="2"/><path class="o" d="M610,3635H622"/>
<rect class="w" x="622" y="3618" width="11" height="34"/>
<polygon class="w" points="633,3617 716,3622 716,3648 633,3653"/>
<rect class="w" x="716" y="3617" width="7" height="36"/>
<rect class="w" x="723" y="3627" width="21" height="20"/>
<path class="o" d="M744,3628H750M744,3645H750M750,3628c-3,6 3,11 0,17M754,3628c-3,6 3,11 0,17M754,3628H765V3645H754"/>
<path class="d" d="M205,3597H249M205,3673H249"/>
<path class="d a" d="M209,3597V3673"/><text class="l fe" transform="translate(209,3635) rotate(-90)" x="-7" y="5" textLength="14" lengthAdjust="spacingAndGlyphs">21</text>
<path class="d a" d="M567,3605V3665"/><text class="l fs" font-size="10" transform="translate(567,3635) rotate(-90)" x="-13" y="3" textLength="26" lengthAdjust="spacingAndGlyphs">M18*1</text>
<!-- E3 -->
<text class="sub" x="15" y="3697" textLength="157" lengthAdjust="spacingAndGlyphs">《防水电缆接头直出》</text>
<path class="w" d="M188,3708H111A40,40 0 0 0 111,3788H188Z"/>
<ellipse class="o" cx="110" cy="3748" rx="28" ry="27"/>
<rect x="188" y="3718" width="162" height="60" fill="url(#th)" stroke="#141414"/>
<rect class="w" x="263" y="3709" width="14" height="80" rx="2"/><path class="o" d="M263,3749H277"/>
<rect class="w" x="296" y="3709" width="14" height="80" rx="2"/><path class="o" d="M296,3749H310"/>
<path class="w" d="M350,3722H403Q408,3722 408,3727V3772Q408,3777 403,3777H350Z"/>
<rect class="w" x="408" y="3730" width="11" height="37" rx="2"/><path class="o" d="M408,3749H419"/>
<rect class="w" x="420" y="3730" width="25" height="37"/><path class="o" d="M420,3743H445M420,3755H445"/>
<path class="w" d="M445,3733H448Q451,3733 451,3738V3759Q451,3764 448,3764H445Z"/>
<path class="o" d="M451,3742H463M451,3757H463M463,3742c-3,5 3,10 0,15M468,3742c-3,5 3,10 0,15M468,3742H481V3757H468"/>
<path class="d" d="M37,3708H100M37,3788H100M310,3709H367M310,3789H367M445,3729H514M445,3768H514"/>
<path class="d a" d="M41,3708V3788"/><text class="l fe" transform="translate(41,3750) rotate(-90)" x="-7" y="5" textLength="14" lengthAdjust="spacingAndGlyphs">24</text>
<path class="d a" d="M363,3709V3789"/><text class="l fe" transform="translate(363,3752) rotate(-90)" x="-11" y="5" textLength="22" lengthAdjust="spacingAndGlyphs">H24</text>
<path class="d a" d="M381,3722V3777"/><text class="l fs" transform="translate(381,3750) rotate(-90)" x="-13" y="4" textLength="26" lengthAdjust="spacingAndGlyphs">ø16.5</text>
<path class="d e" d="M510,3713V3729"/><path class="d e" d="M510,3784V3768"/><path class="d" d="M510,3729V3768"/>
<text class="l fs" transform="translate(510,3749) rotate(-90)" x="-12" y="4" textLength="24" lengthAdjust="spacingAndGlyphs">H11.2</text>
<path class="d" d="M71,3788V3866M188,3788V3835M408,3777V3866M451,3767V3831"/>
<path class="d e" d="M396,3827H408"/><path class="d e" d="M463,3827H451"/><path class="d" d="M408,3827H451"/>
<text class="l fe" x="424" y="3832" textLength="12" lengthAdjust="spacingAndGlyphs">13</text>
<path class="d a" d="M71,3831H188"/><text class="l fe" x="123" y="3836" textLength="14" lengthAdjust="spacingAndGlyphs">35</text>
<path class="d a" d="M71,3862H408"/><text class="l fe" x="230" y="3867" textLength="20" lengthAdjust="spacingAndGlyphs">100</text>
<!-- E3 side -->
<rect class="w" x="309" y="3878" width="130" height="79" rx="2"/>
<rect x="439" y="3883" width="181" height="69" fill="url(#th)" stroke="#141414"/>
<rect class="w" x="524" y="3865" width="14" height="105" rx="2"/><path class="o" d="M524,3917H538"/>
<rect class="w" x="561" y="3865" width="14" height="105" rx="2"/><path class="o" d="M561,3917H575"/>
<path class="w" d="M620,3885H679Q684,3885 684,3890V3945Q684,3950 679,3950H620Z"/>
<rect class="w" x="685" y="3893" width="11" height="49" rx="2"/><path class="o" d="M685,3917H696"/>
<rect class="w" x="698" y="3891" width="25" height="53"/><path class="o" d="M698,3908H723M698,3927H723"/>
<path class="w" d="M723,3894H726Q729,3894 729,3900V3935Q729,3941 726,3941H723Z"/>
<path class="o" d="M729,3909H747M729,3925H747M747,3909c-3,5 3,11 0,16M752,3909c-3,5 3,11 0,16M752,3909H767V3925H752"/>
<path class="d" d="M263,3878H309M263,3957H309"/>
<path class="d a" d="M267,3878V3957"/><text class="l fe" transform="translate(267,3918) rotate(-90)" x="-7" y="5" textLength="14" lengthAdjust="spacingAndGlyphs">21</text>
<path class="d a" d="M639,3885V3950"/><text class="l fs" font-size="10" transform="translate(639,3918) rotate(-90)" x="-13" y="3" textLength="26" lengthAdjust="spacingAndGlyphs">M18*1</text>
</svg>
</body></html>
